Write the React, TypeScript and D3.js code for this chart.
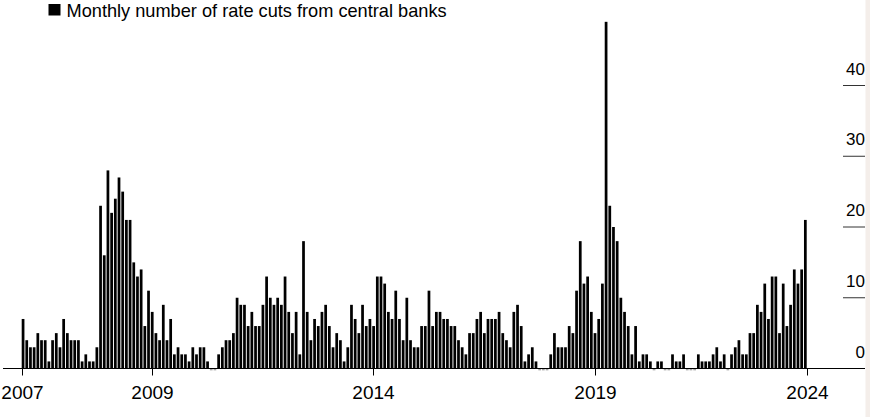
import React from "react";
import * as d3 from "d3";

const START_YEAR = 2007;
const cuts: number[] = [
  7, 4, 3, 3, 5, 4, 4, 1, 4, 5, 3, 7, 5, 4, 4, 4, 1, 2, 1, 1, 3, 23, 16, 28, 22, 24, 27, 25, 21, 21,
  15, 13, 14, 6, 11, 8, 5, 4, 9, 4, 7, 2, 3, 2, 2, 1, 3, 2, 3, 3, 1, 0, 0, 2, 3, 4, 4, 5, 10, 9,
  9, 6, 8, 6, 6, 9, 13, 10, 9, 10, 9, 13, 8, 5, 8, 2, 18, 8, 4, 7, 6, 8, 9, 6, 3, 5, 4, 1, 3, 9, 7,
  5, 9, 6, 7, 6, 13, 13, 12, 8, 7, 11, 7, 4, 10, 4, 3, 3, 6, 6, 11, 6, 8, 8, 7, 7, 6, 6, 4, 3, 2, 5,
  5, 7, 8, 5, 7, 7, 7, 8, 5, 4, 3, 8, 9, 6, 1, 2, 3, 1, 0, 0, 0, 2, 5, 3, 3, 3, 6, 5, 11, 18, 12,
  13, 8, 5, 7, 12, 49, 23, 20, 18, 10, 8, 6, 2, 6, 1, 2, 2, 1, 0, 1, 1, 0, 0, 2, 1, 1, 2, 0, 0, 0,
  2, 1, 1, 1, 2, 3, 1, 2, 0, 2, 3, 4, 2, 2, 5, 5, 9, 8, 12, 7, 13, 13, 5, 12, 6, 9, 14, 12, 14, 21,
];
const months: string[] = cuts.map(
  (_, i) => `${START_YEAR + Math.floor(i / 12)}-${String((i % 12) + 1).padStart(2, "0")}`
);
const yTicks: number[] = [0, 10, 20, 30, 40];
const xTickLabels: string[] = ["2007", "2009", "2014", "2019", "2024"];
const xTickMonths: number[] = [0, 35.25, 95.25, 155.25, 212.75];
const legendLabel = "Monthly number of rate cuts from central banks";

const FONT = "'Liberation Sans', Arial, Helvetica, sans-serif";

export default function App() {
  const W = 870;
  const H = 417;
  const x0 = 21.7;
  const step = 3.69;
  const x = d3.scaleLinear().domain([0, cuts.length]).range([x0, x0 + cuts.length * step]);
  const y = d3.scaleLinear().domain([0, 40]).range([368.5, 85.5]);
  const bw = step * 0.74;
  const base = y(0);

  return (
    <svg
      width={W}
      height={H}
      style={{ position: "absolute", left: 0, top: 0, background: "#fff" }}
      fontFamily={FONT}
    >
      <rect x={0} y={0} width={W} height={H} fill="#fff" />
      <rect x={865.5} y={0} width={W - 865.5} height={H} fill="#f4eeea" />

      {/* legend */}
      <rect x={48.5} y={4} width={12} height={11.5} fill="#000" />
      <text x={66.5} y={16.5} fontSize={18.2} fill="#000">
        {legendLabel}
      </text>

      {/* bars */}
      {cuts.map((v, i) =>
        v > 0 ? (
          <rect key={months[i]} x={x(i)} y={y(v)} width={bw} height={base - y(v)} fill="#000" />
        ) : (
          <rect key={months[i]} x={x(i)} y={base + 0.6} width={bw} height={1.2} fill="#9a9a9a" />
        )
      )}

      {/* y ticks */}
      {yTicks.map((t) => (
        <g key={t}>
          {t !== 0 && (
            <line x1={843} x2={865} y1={y(t)} y2={y(t)} stroke="#333" strokeWidth={1} />
          )}
          <text x={865} y={y(t) - 11} textAnchor="end" fontSize={17} fill="#000">
            {t}
          </text>
        </g>
      ))}

      {/* baseline */}
      <line x1={3} x2={865} y1={base} y2={base} stroke="#000" strokeWidth={1} />

      {/* x ticks */}
      {xTickLabels.map((lab, k) => {
        const px = Math.round(x(xTickMonths[k])) + 0.5;
        return (
          <g key={lab}>
            <line x1={px} x2={px} y1={base} y2={base + 7} stroke="#000" strokeWidth={1} />
            <text x={px} y={399} textAnchor="middle" fontSize={19} fill="#000">
              {lab}
            </text>
          </g>
        );
      })}
    </svg>
  );
}
